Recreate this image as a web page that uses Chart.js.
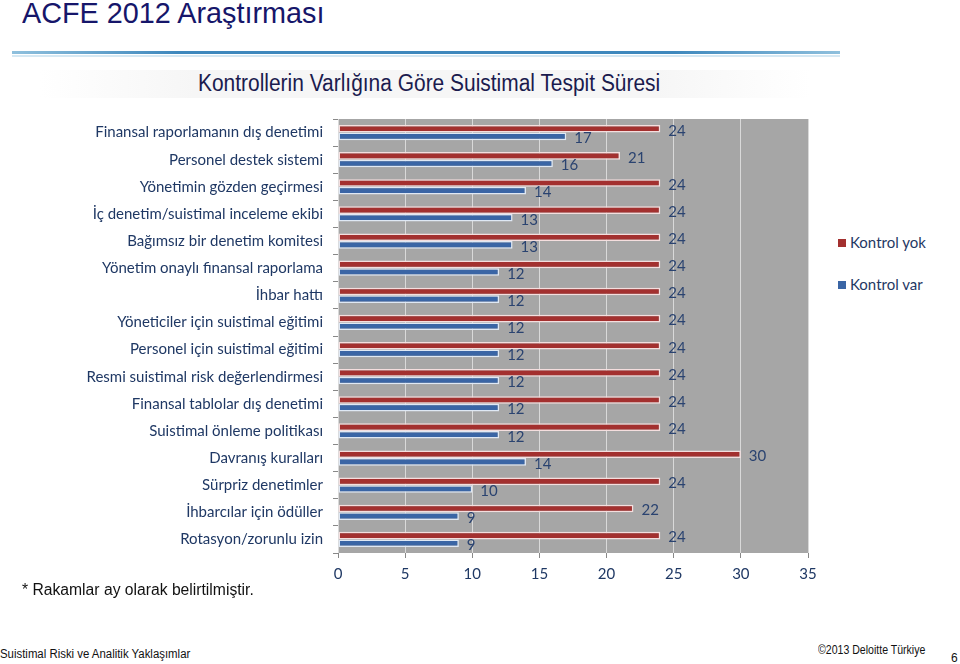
<!DOCTYPE html>
<html>
<head>
<meta charset="utf-8">
<script src="https://cdn.jsdelivr.net/npm/chart.js@4"></script>
<style>
  body { margin: 0; width: 960px; height: 664px; background: #fff; position: relative; overflow: hidden; font-family: "Liberation Sans", Arial, sans-serif; }
  .abs { position: absolute; white-space: nowrap; }
  #title { left: 22px; top: -4px; font-size: 30px; color: #16166a; transform: scaleX(0.96); transform-origin: left top; }
  #rule { left: 12px; top: 51px; width: 828px; height: 3px; background: linear-gradient(to right, #8fc0dd, #3e88bd 20%, #3e88bd 80%, #8fc0dd); }
  #rule2 { left: 12px; top: 55px; width: 828px; height: 2px; background: #d5e8f3; }
  #band { left: 40px; top: 70px; width: 770px; height: 28px; background: linear-gradient(to right, #fff, #f6f6f6 20%, #f6f6f6 80%, #fff); }
  #sub { left: 198px; top: 70px; font-size: 23px; color: #1b1b4e; transform: scaleX(0.91); transform-origin: left top; }
  #chartBox { left: 0; top: 100px; width: 830px; height: 490px; }
  .leg { font-family: Lato, "Open Sans", sans-serif; font-size: 15px; color: #1f3864; }
  .leg span { display: inline-block; width: 8px; height: 8px; margin-right: 4px; vertical-align: 1px; }
  #note { left: 22px; top: 581px; font-size: 16px; color: #111; transform: scaleX(0.98); transform-origin: left top; }
  #foot1 { left: 0; top: 647px; font-size: 12px; color: #111; transform: scaleX(0.95); transform-origin: left top; }
  #foot2 { left: 818px; top: 643px; font-size: 12px; color: #111; transform: scaleX(0.88); transform-origin: left top; }
  #page { left: 951px; top: 651px; font-size: 12px; color: #111; }
</style>
</head>
<body>
<div class="abs" id="title">ACFE 2012 Araştırması</div>
<div class="abs" id="rule"></div>
<div class="abs" id="rule2"></div>
<div class="abs" id="band"></div>
<div class="abs" id="sub">Kontrollerin Varlığına Göre Suistimal Tespit Süresi</div>
<div class="abs" id="chartBox"><canvas id="barChart" width="830" height="490"></canvas></div>
<div class="abs leg" style="left:838px; top:233px;"><span style="background:#a3302f"></span>Kontrol yok</div>
<div class="abs leg" style="left:838px; top:275px;"><span style="background:#3a65a5"></span>Kontrol var</div>
<div class="abs" id="note">* Rakamlar ay olarak belirtilmiştir.</div>
<div class="abs" id="foot1">Suistimal Riski ve Analitik Yaklaşımlar</div>
<div class="abs" id="foot2">©2013 Deloitte Türkiye</div>
<div class="abs" id="page">6</div>

<script>
const categories = [
    'Finansal raporlamanın dış denetimi',
    'Personel destek sistemi',
    'Yönetimin gözden geçirmesi',
    'İç denetim/suistimal inceleme ekibi',
    'Bağımsız bir denetim komitesi',
    'Yönetim onaylı finansal raporlama',
    'İhbar hattı',
    'Yöneticiler için suistimal eğitimi',
    'Personel için suistimal eğitimi',
    'Resmi suistimal risk değerlendirmesi',
    'Finansal tablolar dış denetimi',
    'Suistimal önleme politikası',
    'Davranış kuralları',
    'Sürpriz denetimler',
    'İhbarcılar için ödüller',
    'Rotasyon/zorunlu izin'
];
const kontrolYok = [24, 21, 24, 24, 24, 24, 24, 24, 24, 24, 24, 24, 30, 24, 22, 24];
const kontrolVar = [17, 16, 14, 13, 13, 12, 12, 12, 12, 12, 12, 12, 14, 10, 9, 9];
const xTicks = [0, 5, 10, 15, 20, 25, 30, 35];

const labelFont = 'Lato, "Open Sans", sans-serif';

// gray plot background
const plotBg = {
    id: 'plotBg',
    beforeDraw(chart) {
        const { ctx, chartArea: a } = chart;
        ctx.save();
        ctx.fillStyle = '#a6a6a6';
        ctx.fillRect(a.left, a.top, a.right - a.left, a.bottom - a.top);
        ctx.restore();
    }
};

// value labels next to bar ends
const valueLabels = {
    id: 'valueLabels',
    afterDatasetsDraw(chart) {
        const { ctx } = chart;
        ctx.save();
        ctx.font = '15px ' + labelFont;
        ctx.fillStyle = '#2a4370';
        ctx.textBaseline = 'middle';
        chart.data.datasets.forEach((ds, i) => {
            chart.getDatasetMeta(i).data.forEach((bar, j) => {
                ctx.fillText(ds.data[j], bar.x + 8, bar.y + 2);
            });
        });
        ctx.restore();
    }
};

new Chart(document.getElementById('barChart').getContext('2d'), {
    type: 'bar',
    data: {
        labels: categories,
        datasets: [
            {
                label: 'Kontrol yok',
                data: kontrolYok,
                backgroundColor: '#a3302f',
                borderColor: '#f4dede',
                borderWidth: 1.5,
                borderSkipped: false,
                categoryPercentage: 0.56,
                barPercentage: 1
            },
            {
                label: 'Kontrol var',
                data: kontrolVar,
                backgroundColor: '#3a65a5',
                borderColor: '#dfe8f4',
                borderWidth: 1.5,
                borderSkipped: false,
                categoryPercentage: 0.56,
                barPercentage: 1
            }
        ]
    },
    options: {
        indexAxis: 'y',
        responsive: false,
        animation: false,
        layout: { padding: { top: 0, right: 22, left: 0, bottom: 0 } },
        plugins: { legend: { display: false }, tooltip: { enabled: false } },
        scales: {
            x: {
                min: 0,
                max: 35,
                afterBuildTicks(scale) { scale.ticks = xTicks.map(v => ({ value: v })); },
                afterFit(scale) { scale.height = 37; },
                grid: { color: '#d9d9d9', lineWidth: 1, tickLength: 5, tickColor: '#888' },
                border: { display: false },
                ticks: { color: '#1f3864', padding: 7, font: { family: labelFont, size: 15 } }
            },
            y: {
                afterFit(scale) { scale.width = 338; },
                grid: { drawOnChartArea: false, tickLength: 5, color: '#888' },
                border: { display: false },
                ticks: { color: '#1f3864', padding: 10, font: { family: labelFont, size: 15 } }
            }
        }
    },
    plugins: [plotBg, valueLabels]
});
</script>
</body>
</html>
